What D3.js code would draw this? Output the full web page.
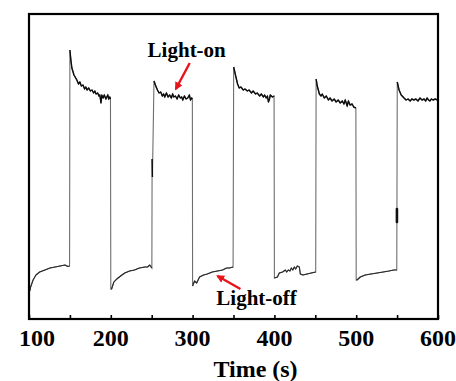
<!DOCTYPE html>
<html>
<head>
<meta charset="utf-8">
<script src="https://cdn.jsdelivr.net/npm/d3@7"></script>
<style>
  html, body { margin: 0; padding: 0; background: #fff; }
  svg { display: block; }
  text { font-family: "Liberation Serif", "Times New Roman", serif; font-weight: bold; fill: #000; }
</style>
</head>
<body>
<div id="chart"></div>
<script>
// time (s) tick values
const xTicks = [100, 150, 200, 250, 300, 350, 400, 450, 500, 550, 600];
const xLabels = [100, 200, 300, 400, 500, 600];

// photocurrent trace, [time (s), current (a.u.)]
const trace = [
  // light off
  [101, 2.8], [102, 3.2], [105, 3.9], [108.5, 4.4], [113, 4.7], [119.5, 4.9], [125.6, 5.1],
  [132, 5.2], [138, 5.3], [144, 5.4], [147.5, 5.25], [149.6, 5.3],
  // light on
  [150, 26.9], [151.2, 25.9], [152.4, 25.1], [155, 24.4], [158.5, 23.9], [160.5, 23.5], [162.2, 23.7],
  [164, 23.3], [166, 23.4], [168, 23.0], [169.5, 23.2], [171, 22.9], [173, 23.1], [175, 22.8],
  [177, 22.9], [179, 22.6], [180.5, 22.8], [182, 22.5], [184, 22.6], [185.5, 22.3],
  [186.6, 22.4], [188, 21.6], [189, 22.4], [190.5, 22.1], [192, 22.4], [194, 22.0],
  [196.3, 22.4], [197.5, 22.0], [198.8, 22.2], [199.6, 22.0],
  // light off
  [200, 3.0], [201, 3.0], [203.7, 3.7], [207.3, 4.0], [212, 4.3], [217, 4.6], [223, 4.8],
  [229, 4.9], [235, 5.1], [241.5, 5.2], [245, 5.2], [247.6, 5.4], [250.2, 5.1],
  // light on (with a glitch on the edge)
  [250.5, 16.0], [250.9, 14.2], [252.8, 23.8], [254.5, 23.4], [257, 22.9], [259, 22.6], [261, 22.7],
  [263, 22.3], [264.6, 22.5], [266, 22.2], [268, 22.6], [270, 22.2], [272, 22.4],
  [274, 22.1], [275.6, 22.5], [277, 22.2], [279, 22.3], [281, 22.0], [283, 22.4],
  [285, 22.1], [286.6, 22.2], [288, 21.9], [290, 22.3], [292, 22.0], [294, 22.1],
  [296, 22.4], [297.5, 21.9], [298.8, 22.1], [299.7, 22.0],
  // light off
  [300, 3.3], [302.4, 3.8], [305, 3.6], [308.5, 4.2], [313.4, 4.4], [318, 4.5], [324, 4.7],
  [330.5, 4.8], [336.6, 4.9], [341.5, 5.1], [345, 5.1], [349.5, 5.2],
  // light on
  [350.2, 25.2], [352.4, 24.4], [355, 23.5], [357, 23.1], [359, 23.2], [362, 22.9],
  [364, 23.0], [367, 22.8], [369, 22.9], [372, 22.6], [374, 22.8], [377, 22.5],
  [379, 22.6], [382, 22.3], [384, 22.5], [386.6, 22.2], [388, 22.4], [390, 22.1],
  [391.5, 22.3], [392.7, 21.7], [394, 22.0], [395, 22.4], [397.6, 22.2], [399.6, 22.3],
  // light off
  [400, 4.1], [403.7, 4.2], [406, 4.6], [410, 4.7], [413.4, 4.9], [415, 4.7], [417, 4.9],
  [419, 4.8], [420.7, 5.1], [422.5, 4.9], [424.4, 5.2], [426, 5.0], [428, 5.3],
  [430.5, 5.2], [431.7, 4.5], [435, 4.4], [440, 4.5], [445, 4.6], [450.5, 4.7],
  // light on
  [451, 24.0], [452.4, 23.3], [455, 22.5], [457, 22.3], [458.5, 22.5], [461, 22.1],
  [463.4, 22.3], [466, 21.9], [468, 22.1], [470.5, 21.8], [473, 22.0], [475.5, 21.7],
  [478, 21.9], [480.5, 21.6], [483, 21.8], [485, 21.5], [486.6, 21.9], [489, 21.3],
  [490.5, 21.8], [492.5, 21.4], [495, 21.5], [497, 21.2], [499.6, 21.1],
  // light off
  [500, 3.9], [501, 3.9], [505, 4.2], [511, 4.4], [518, 4.5], [525.6, 4.6], [533, 4.7],
  [540, 4.8], [546, 4.9], [549.6, 4.9],
  // light on
  [550.2, 23.7], [552.4, 22.9], [555, 22.4], [558.5, 22.1], [561, 21.9], [563.4, 22.0],
  [566, 21.8], [568, 22.0], [570.5, 21.9], [573, 22.0], [575.5, 21.8], [578, 22.1],
  [580.5, 21.9], [583, 22.0], [585, 21.8], [586.6, 22.1], [588.5, 21.9], [590, 21.8],
  [592, 22.0], [594, 21.9], [596.5, 22.0], [599.5, 21.9]
];

// small dark blob on the last rising edge
const glitch = [[549.8, 9.7], [549.8, 11.0]];

// annotations: text position and arrow (tail -> tip), in data units
const notes = [
  { label: "Light-on", at: [245, 26.2], tail: [296.5, 25.6], tip: [279.5, 23.0] },
  { label: "Light-off", at: [329, 1.4], tail: [358.5, 3.0], tip: [330.5, 4.3] }
];

const W = 456, H = 381;
const margin = { top: 14, right: 18, bottom: 62, left: 29 };

const x = d3.scaleLinear().domain([100, 600]).range([margin.left, W - margin.right]);
const y = d3.scaleLinear().domain([0, 30.5]).range([H - margin.bottom, margin.top]);

const svg = d3.select("#chart").append("svg")
  .attr("width", W)
  .attr("height", H);

svg.append("defs").append("marker")
  .attr("id", "head")
  .attr("viewBox", "0 0 10 10")
  .attr("refX", 8).attr("refY", 5)
  .attr("markerWidth", 3.4).attr("markerHeight", 3.4)
  .attr("orient", "auto")
  .append("path")
  .attr("d", "M0,0 L10,5 L0,10 z")
  .attr("fill", "#e8141c");

const line = d3.line().x(d => x(d[0])).y(d => y(d[1]));

// whole trace in grey (switching edges stay grey) ...
svg.append("path")
  .datum(trace)
  .attr("d", line)
  .attr("fill", "none")
  .attr("stroke", "#6e6e6e")
  .attr("stroke-width", 1.1);

// ... then the plateaus, split at the big jumps; light-on ones look heavier
const runs = [[trace[0]]];
for (let i = 1; i < trace.length; i++) {
  if (Math.abs(trace[i][1] - trace[i - 1][1]) > 5) runs.push([]);
  runs[runs.length - 1].push(trace[i]);
}
svg.append("g").selectAll("path")
  .data(runs)
  .enter().append("path")
  .attr("d", line)
  .attr("fill", "none")
  .attr("stroke", d => d3.mean(d, p => p[1]) > 12 ? "#0d0d0d" : "#2a2a2a")
  .attr("stroke-width", d => d3.mean(d, p => p[1]) > 12 ? 1.4 : 1.05)
  .attr("stroke-linejoin", "round");

svg.append("path")
  .datum(glitch)
  .attr("d", line)
  .attr("fill", "none")
  .attr("stroke", "#111")
  .attr("stroke-width", 2.6)
  .attr("stroke-linecap", "round");

// x axis with inward ticks
const axis = svg.append("g")
  .attr("transform", `translate(0,${y(0)})`)
  .call(d3.axisBottom(x).tickValues(xTicks).tickSizeInner(-4).tickSizeOuter(0).tickFormat(""));
axis.select(".domain").remove();
axis.selectAll(".tick line").attr("stroke", "#000").attr("stroke-width", 1.6);

svg.append("g").selectAll("text")
  .data(xLabels)
  .enter().append("text")
  .attr("x", (d, i) => x(d) + (i === 0 ? 8 : 0))
  .attr("y", y(0) + 27)
  .attr("text-anchor", "middle")
  .attr("font-size", 24)
  .text(d => d);

// frame
svg.append("rect")
  .attr("x", x(100))
  .attr("y", y(30.5))
  .attr("width", x(600) - x(100))
  .attr("height", y(0) - y(30.5))
  .attr("fill", "none")
  .attr("stroke", "#000")
  .attr("stroke-width", 2.2);

svg.append("text")
  .attr("x", 255.5)
  .attr("y", 377)
  .attr("text-anchor", "middle")
  .attr("font-size", 24)
  .text("Time (s)");

// annotations
notes.forEach(n => {
  svg.append("text")
    .attr("x", x(n.at[0]))
    .attr("y", y(n.at[1]))
    .attr("font-size", 21)
    .text(n.label);
  svg.append("line")
    .attr("x1", x(n.tail[0])).attr("y1", y(n.tail[1]))
    .attr("x2", x(n.tip[0])).attr("y2", y(n.tip[1]))
    .attr("stroke", "#e8141c")
    .attr("stroke-width", 2.4)
    .attr("marker-end", "url(#head)");
});
</script>
</body>
</html>
